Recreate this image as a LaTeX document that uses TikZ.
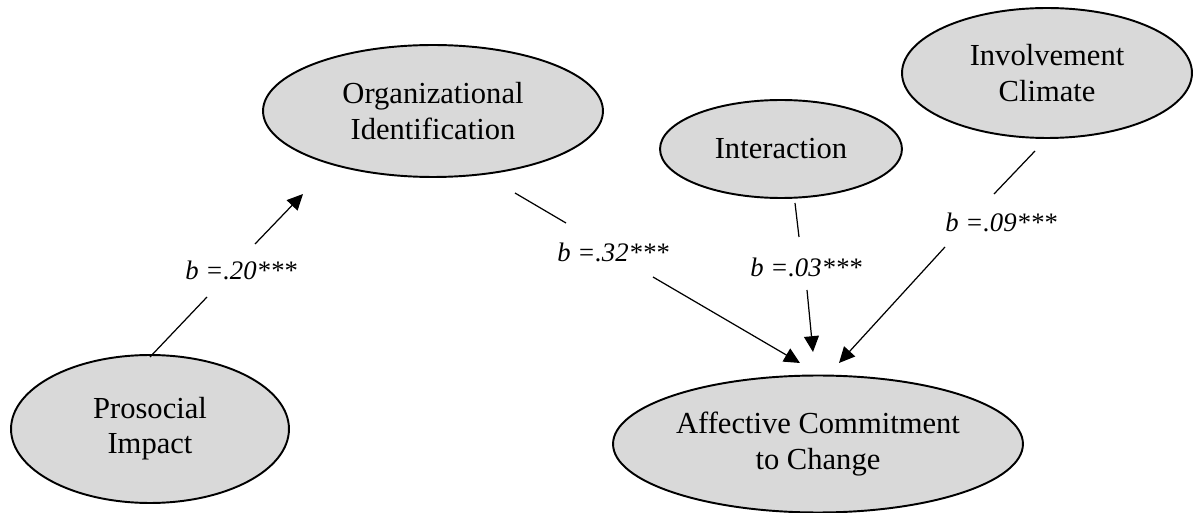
\documentclass[tikz,border=0pt]{standalone}
\usepackage{fontspec}
\setmainfont{Liberation Serif}
\usetikzlibrary{shapes.geometric,arrows.meta}
\definecolor{ellfill}{HTML}{D9D9D9}
\begin{document}
\begin{tikzpicture}[x=0.02cm,y=-0.02cm,
  latent/.style={ellipse,draw=black,line width=1.1pt,fill=ellfill,inner sep=0pt,align=center,font=\fontsize{17.4}{20}\selectfont},
  conn/.style={line width=0.7pt},
  arr/.style={conn,-{Triangle[length=9pt,width=8.5pt]}},
  coef/.style={font=\fontsize{15.2}{17}\selectfont\itshape,inner sep=0pt}]
\useasboundingbox (0,0) rectangle (1198,513);

\node[latent,minimum width=5.56cm,minimum height=2.96cm] (PI) at (150,429) {Prosocial\\Impact};
\node[latent,minimum width=6.8cm,minimum height=2.64cm] (OI) at (433,111) {Organizational\\Identification};
\node[latent,minimum width=4.84cm,minimum height=1.96cm] (IN) at (781,149) {Interaction};
\node[latent,minimum width=5.8cm,minimum height=2.6cm] (IC) at (1047,73) {Involvement\\Climate};
\node[latent,minimum width=8.2cm,minimum height=2.74cm] (AC) at (818,444) {Affective Commitment\\to Change};

% Prosocial -> OrgID
\coordinate (a1) at (150,357);
\coordinate (a2) at (207,297);
\node[coef] (la) at (241,270) {b =.20***};
\coordinate (a3) at (255,244);
\coordinate (a4) at (303,194);
\draw[conn] (a1) -- (a2);
\draw[arr] (a3) -- (a4);

% OrgID -> Affective
\coordinate (b1) at (515,193);
\coordinate (b2) at (566,223);
\node[coef] (lb) at (613,252) {b =.32***};
\coordinate (b3) at (653,277);
\coordinate (b4) at (800,363);
\draw[conn] (b1) -- (b2);
\draw[arr] (b3) -- (b4);

% Interaction -> Affective
\coordinate (c1) at (795,203);
\coordinate (c2) at (799,237);
\node[coef] (lc) at (806,267) {b =.03***};
\coordinate (c3) at (807,290);
\coordinate (c4) at (813,352);
\draw[conn] (c1) -- (c2);
\draw[arr] (c3) -- (c4);

% Involvement -> Affective
\coordinate (d1) at (1035,151);
\coordinate (d2) at (994,194);
\node[coef] (ld) at (1001,222) {b =.09***};
\coordinate (d3) at (945,247);
\coordinate (d4) at (839,363);
\draw[conn] (d1) -- (d2);
\draw[arr] (d3) -- (d4);
\end{tikzpicture}
\end{document}
